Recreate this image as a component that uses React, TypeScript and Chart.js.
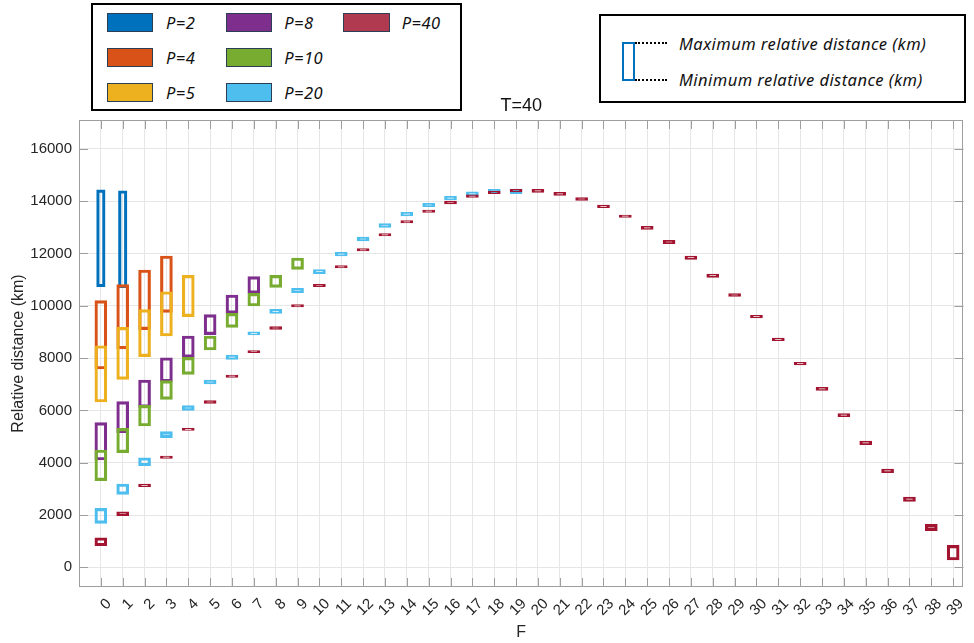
import React, { useEffect, useRef } from 'react';
import { Chart, registerables } from 'chart.js';

Chart.register(...registerables);

// F index (x categories)
const F_LABELS = [0, 1, 2, 3, 4, 5, 6, 7, 8, 9, 10, 11, 12, 13, 14, 15, 16, 17, 18, 19, 20, 21, 22, 23, 24, 25, 26, 27, 28, 29, 30, 31, 32, 33, 34, 35, 36, 37, 38, 39];
const Y_TICKS = [0, 2000, 4000, 6000, 8000, 10000, 12000, 14000, 16000];

// Minimum / maximum relative distance (km) per F, for each P
const P2_MIN = [10730, 10690];
const P2_MAX = [14430, 14400];

const P4_MIN = [7583, 8350, 9086, 9751];
const P4_MAX = [10195, 10807, 11369, 11904];

const P5_MIN = [6321, 7189, 8054, 8845, 9584];
const P5_MAX = [8474, 9177, 9851, 10539, 11166];

const P8_MIN = [4103, 5147, 6118, 7097, 8030, 8896, 9713, 10476];
const P8_MAX = [5530, 6333, 7162, 8015, 8844, 9661, 10412, 11113];

const P10_MIN = [3312, 4383, 5403, 6424, 7380, 8309, 9177, 9991, 10707, 11394];
const P10_MAX = [4486, 5315, 6195, 7136, 8030, 8845, 9713, 10476, 11166, 11828];

const P20_MIN = [1682, 2791, 3885, 4956, 6004, 7009, 7954, 8883, 9713, 10502, 11228, 11904, 12478, 13001, 13434, 13791, 14045, 14205, 14320, 14290];
const P20_MAX = [2256, 3185, 4191, 5186, 6183, 7162, 8118, 9009, 9865, 10668, 11381, 12045, 12630, 13140, 13575, 13919, 14190, 14360, 14454, 14467];

const P40_MIN = [826, 1973, 3083, 4167, 5239, 6271, 7265, 8206, 9101, 9954, 10730, 11445, 12096, 12669, 13166, 13574, 13900, 14140, 14290, 14352,
  14339, 14224, 14033, 13753, 13384, 12920, 12377, 11777, 11089, 10363, 9534, 8666, 7736, 6768, 5759, 4688, 3618, 2524, 1400, 279];
const P40_MAX = [1132, 2126, 3185, 4256, 5315, 6371, 7354, 8283, 9201, 10042, 10820, 11534, 12185, 12758, 13255, 13663, 14000, 14245, 14385, 14454,
  14454, 14339, 14134, 13855, 13472, 13040, 12505, 11904, 11216, 10463, 9636, 8768, 7839, 6883, 5874, 4830, 3759, 2688, 1644, 841];

const SERIES_NAMES = ['P=2', 'P=4', 'P=5', 'P=8', 'P=10', 'P=20', 'P=40'];
const SERIES_MIN = [P2_MIN, P4_MIN, P5_MIN, P8_MIN, P10_MIN, P20_MIN, P40_MIN];
const SERIES_MAX = [P2_MAX, P4_MAX, P5_MAX, P8_MAX, P10_MAX, P20_MAX, P40_MAX];
const COLORS = ['#0072BD', '#D95319', '#EDB120', '#7E2F8E', '#77AC30', '#4DBEEE', '#A2142F'];
const LEGEND_FILLS = ['#0072BD', '#D95319', '#EDB120', '#7E2F8E', '#77AC30', '#4DBEEE', '#B03A50'];
const THICKNESS = [8.5, 12, 12, 12, 12, 12, 12];

const FONT = "'Liberation Sans', Arial, sans-serif";
const LEGEND_FONT = "'Noto Sans', 'DejaVu Sans', sans-serif";
const AXIS = '#9e9e9e';
const GRID = '#e6e6e6';
const TEXT = '#262626';

const framePlugin = {
  id: 'frame',
  afterDraw(chart: any) {
    const { ctx, chartArea: a, scales } = chart;
    ctx.save();
    ctx.strokeStyle = AXIS;
    ctx.lineWidth = 1;
    ctx.beginPath();
    scales.x.ticks.forEach((t: any) => {
      const px = Math.round(scales.x.getPixelForValue(t.value)) + 0.5;
      ctx.moveTo(px, a.bottom);
      ctx.lineTo(px, a.bottom - 9);
      ctx.moveTo(px, a.top);
      ctx.lineTo(px, a.top + 9);
    });
    scales.y.ticks.forEach((t: any) => {
      const py = Math.round(scales.y.getPixelForValue(t.value)) + 0.5;
      ctx.moveTo(a.left, py);
      ctx.lineTo(a.left + 9, py);
      ctx.moveTo(a.right, py);
      ctx.lineTo(a.right - 9, py);
    });
    ctx.stroke();
    ctx.strokeRect(Math.round(a.left) + 0.5, Math.round(a.top) + 0.5, Math.round(a.right - a.left) - 1, Math.round(a.bottom - a.top) - 1);
    ctx.restore();
  },
};

export default function App() {
  const ref = useRef<HTMLCanvasElement>(null);

  useEffect(() => {
    const datasets = SERIES_NAMES.map((name, i) => ({
      label: name,
      data: SERIES_MIN[i].map((lo, f) => ({ x: F_LABELS[f], y: [lo, SERIES_MAX[i][f]] })),
      backgroundColor: 'rgba(0,0,0,0)',
      borderColor: COLORS[i],
      borderWidth: 2.5,
      borderSkipped: false,
      barThickness: THICKNESS[i],
      grouped: false,
      order: SERIES_NAMES.length - i,
    }));

    const chart = new Chart(ref.current as HTMLCanvasElement, {
      type: 'bar',
      data: { datasets } as any,
      options: {
        responsive: false,
        animation: false,
        devicePixelRatio: 1,
        layout: { padding: { left: 0, right: 2, top: 0, bottom: 0 } },
        plugins: {
          legend: { display: false },
          tooltip: { enabled: false },
          title: {
            display: true,
            text: 'T=40',
            fullSize: false,
            color: '#111111',
            font: { family: FONT, size: 18, weight: 'normal', lineHeight: 1.2 },
            padding: { top: 95.2, bottom: 3.2 },
          },
        },
        scales: {
          x: {
            type: 'linear',
            min: -1,
            max: 39.47,
            offset: false,
            afterBuildTicks: (s: any) => {
              s.ticks = F_LABELS.map((v) => ({ value: v }));
            },
            afterFit: (s: any) => {
              s.height = 56;
            },
            ticks: {
              stepSize: 1,
              autoSkip: false,
              minRotation: 45,
              maxRotation: 45,
              padding: 8,
              labelOffset: 8,
              color: TEXT,
              font: { family: FONT, size: 15 },
              callback: (v: any) => String(v),
            },
            grid: { color: GRID, drawTicks: false, offset: false },
            border: { display: false },
            title: {
              display: true,
              text: 'F',
              color: TEXT,
              font: { family: FONT, size: 16, lineHeight: 1.2 },
              padding: { top: 0, bottom: 0.4 },
            },
          },
          y: {
            type: 'linear',
            min: -753,
            max: 17105,
            afterBuildTicks: (s: any) => {
              s.ticks = Y_TICKS.map((v) => ({ value: v }));
            },
            afterFit: (s: any) => {
              s.width = 79;
            },
            ticks: {
              padding: 7,
              color: TEXT,
              font: { family: FONT, size: 15 },
              callback: (v: any) => String(v),
            },
            grid: { color: GRID, drawTicks: false },
            border: { display: false },
            title: {
              display: true,
              text: 'Relative distance (km)',
              color: TEXT,
              font: { family: FONT, size: 16, lineHeight: 1.2 },
              padding: { top: 8.5, bottom: 0 },
            },
          },
        },
      } as any,
      plugins: [framePlugin],
    });
    return () => chart.destroy();
  }, []);

  const legendCols = [106.7, 225.7, 343.3];
  const legendTextCols = [166, 284.3, 401.7];
  const legendRows = [13.3, 48.3, 83.3];
  const legendPos = [
    [0, 0], [0, 1], [0, 2], [1, 0], [1, 1], [1, 2], [2, 0],
  ];

  const textStyle: React.CSSProperties = {
    position: 'absolute',
    fontFamily: LEGEND_FONT,
    fontStyle: 'italic',
    fontSize: 16.5,
    letterSpacing: '0.45px',
    color: '#111',
    lineHeight: '20px',
    whiteSpace: 'nowrap',
  };

  return (
    <div style={{ position: 'absolute', left: 0, top: 0, width: 974, height: 643, background: '#fff', overflow: 'hidden' }}>
      <canvas ref={ref} width={974} height={643} style={{ display: 'block', width: 974, height: 643 }} />
      <div
        style={{
          position: 'absolute', left: 91, top: 3, width: 371, height: 108,
          boxSizing: 'border-box', border: '2px solid #000', background: '#fff',
        }}
      />
      {SERIES_NAMES.map((name, i) => {
        const [c, r] = legendPos[i];
        return (
          <React.Fragment key={name}>
            <div
              style={{
                position: 'absolute', left: legendCols[c], top: legendRows[r], width: 46.7, height: 19,
                boxSizing: 'border-box', background: LEGEND_FILLS[i], border: '1.5px solid #2c3e55',
              }}
            />
            <div style={{ ...textStyle, left: legendTextCols[c], top: legendRows[r] - 0.5 }}>{name}</div>
          </React.Fragment>
        );
      })}
      <div
        style={{
          position: 'absolute', left: 599, top: 14, width: 367, height: 89,
          boxSizing: 'border-box', border: '2px solid #000', background: '#fff',
        }}
      />
      <div
        style={{
          position: 'absolute', left: 622.3, top: 42.3, width: 12.7, height: 38.4,
          boxSizing: 'border-box', border: '2.5px solid #0072BD',
        }}
      />
      <div style={{ position: 'absolute', left: 635, top: 42.3, width: 32, height: 0, borderTop: '2px dotted #000' }} />
      <div style={{ position: 'absolute', left: 635, top: 78.7, width: 32, height: 0, borderTop: '2px dotted #000' }} />
      <div style={{ ...textStyle, left: 679, top: 33.5 }}>Maximum relative distance (km)</div>
      <div style={{ ...textStyle, left: 679, top: 69.5 }}>Minimum relative distance (km)</div>
    </div>
  );
}
